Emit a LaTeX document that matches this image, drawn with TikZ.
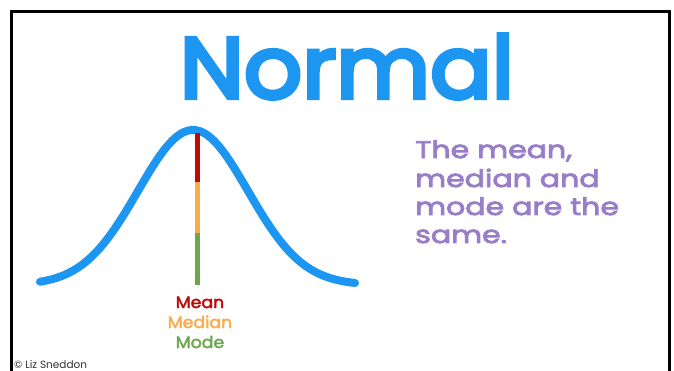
\documentclass[tikz,border=0pt]{standalone}
\usepackage{fontspec}
\setmainfont{Poppins}
\newfontfamily\titlefont[FakeBold=5,FakeStretch=1.06]{Poppins}
\newfontfamily\descfont[FakeBold=3.5,FakeStretch=1.25]{Poppins}
\newfontfamily\labfont[FakeBold=2.5,FakeStretch=1.05]{Poppins}
\definecolor{curveblue}{RGB}{28,150,240}
\definecolor{meanred}{RGB}{192,10,10}
\definecolor{medorange}{RGB}{250,172,75}
\definecolor{modegreen}{RGB}{106,168,79}
\definecolor{txtpurple}{RGB}{152,126,200}
\begin{document}
\begin{tikzpicture}[x=1pt,y=-1pt,
  title/.style={font=\titlefont\fontsize{86}{86}\selectfont, text=curveblue, inner sep=0pt, anchor=base},
  desc/.style={font=\descfont\fontsize{24}{28}\selectfont, text=txtpurple, inner sep=0pt, anchor=base west},
  lab/.style={font=\labfont\fontsize{16.5}{18}\selectfont, inner sep=0pt, anchor=base},
  seg/.style={line width=5pt}]
\useasboundingbox[fill=white] (0,0) rectangle (674,371);
% frame (bottom lies outside the picture)
\draw[line width=2.6pt] (11.5,380) -- (11.5,11.5) -- (669.5,11.5) -- (669.5,380);
% title
\node[title] (t) at (347,98) {Normal};
% curve
\draw[curveblue, line width=8pt, line cap=round, smooth, samples=80, domain=40:355]
  plot (\x, {285 - 155*exp(-0.5*((\x-193)/55)^2)});
% mean / median / mode line
\coordinate (c0) at (197,133);
\coordinate (c1) at (197,182);
\coordinate (c2) at (197,233);
\coordinate (c3) at (197,285);
\draw[seg, meanred] (c0) -- (c1);
\draw[seg, medorange] (c1) -- (c2);
\draw[seg, modegreen] (c2) -- (c3);
% labels
\node[lab, text=meanred] (mean) at (200,308) {Mean};
\node[lab, text=medorange] (median) at (200,328) {Median};
\node[lab, text=modegreen] (mode) at (200,348) {Mode};
% description
\node[desc] (p1) at (415,158) {The mean,};
\node[desc] (p2) at (415,187) {median and};
\node[desc] (p3) at (415,215) {mode are the};
\node[desc] (p4) at (415,243) {same.};
% copyright
\node[font=\fontsize{10.5}{11}\selectfont, text=black!80, inner sep=0pt, anchor=base west] (cr) at (14,368) {© Liz Sneddon};
\end{tikzpicture}
\end{document}
